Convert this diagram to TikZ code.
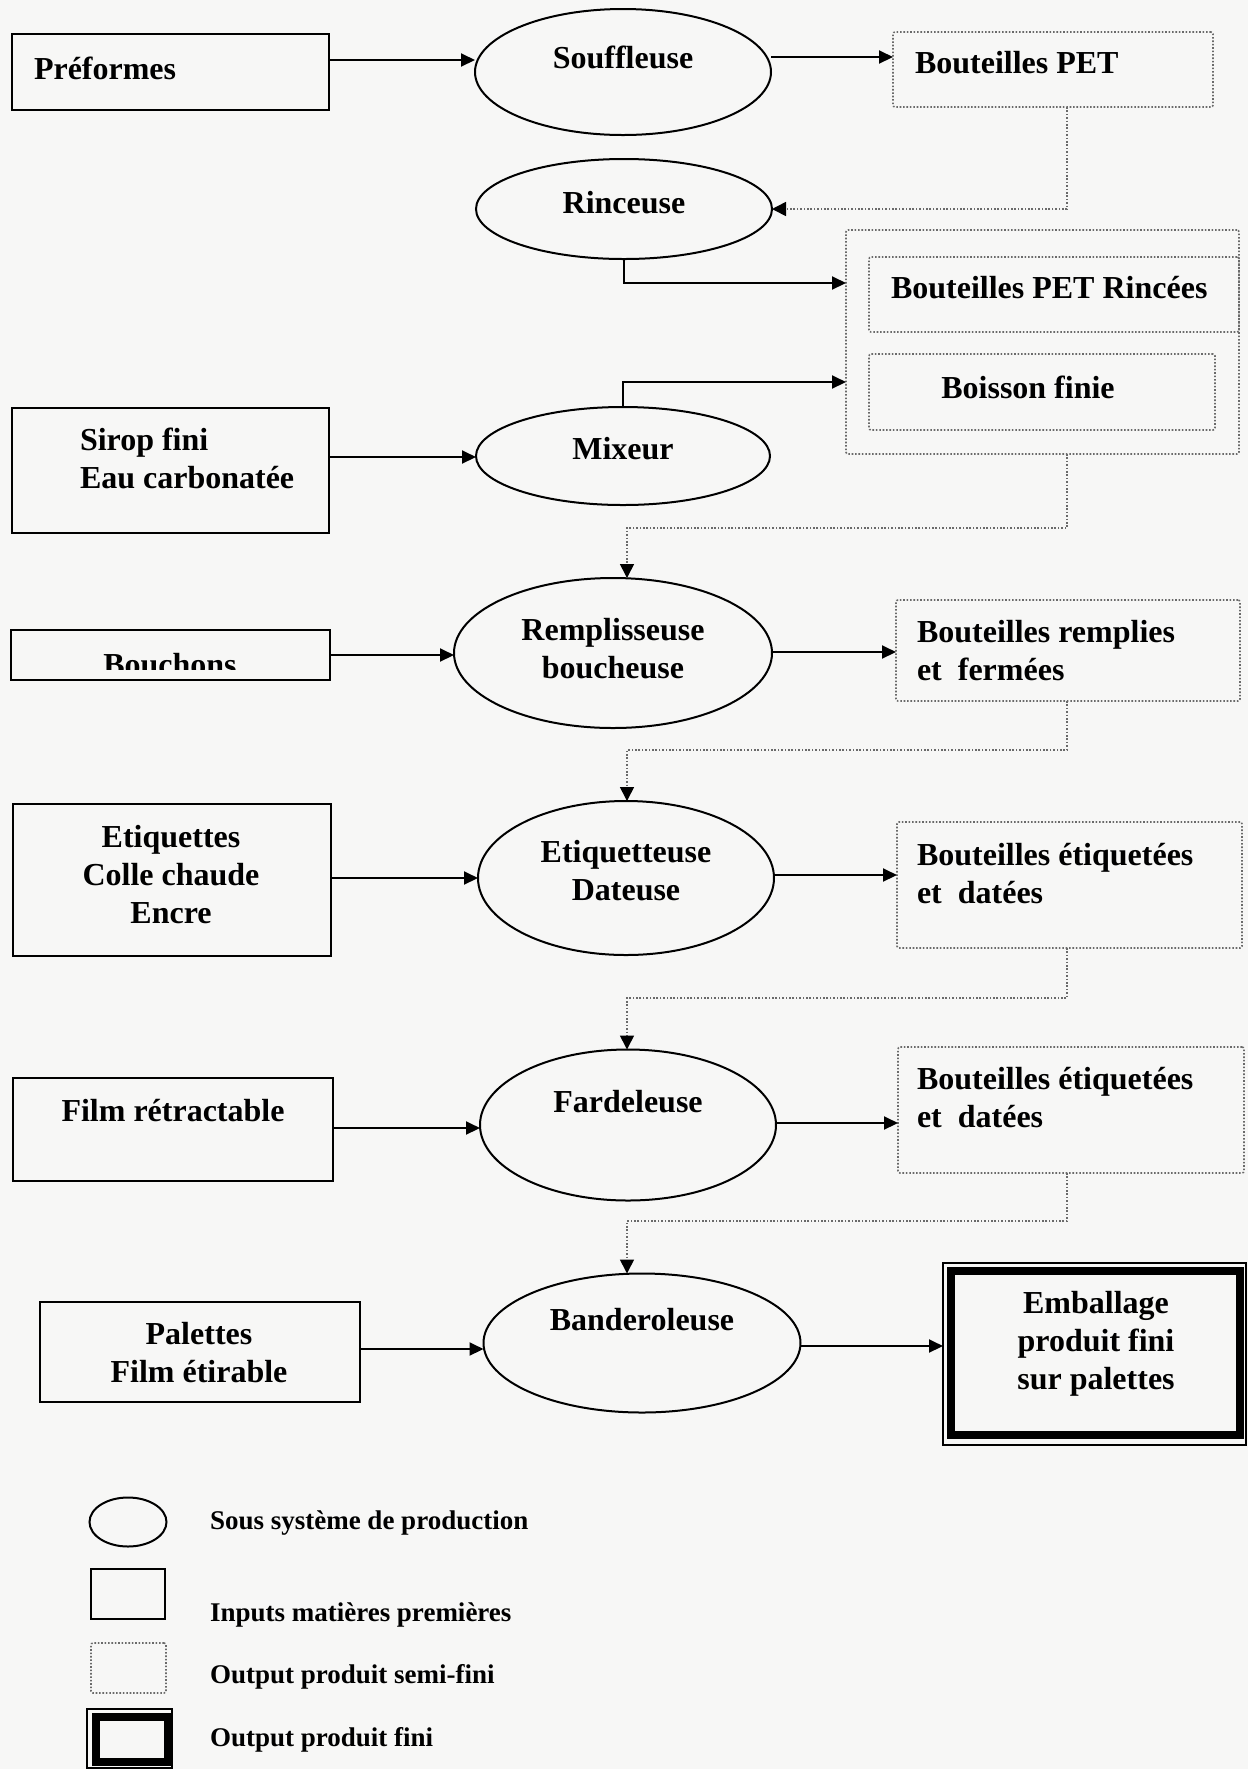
\documentclass[tikz,border=0pt]{standalone}
\usepackage{fontspec}
\setmainfont{Liberation Serif}
\usetikzlibrary{arrows.meta,shapes.geometric,positioning}
\definecolor{paper}{HTML}{F7F7F6}
\definecolor{dots}{HTML}{6A6A6A}

\begin{document}
\begin{tikzpicture}[
  x=0.5pt,y=-0.5pt,
  every node/.style={font=\fontsize{16}{19}\selectfont\bfseries,inner sep=0pt,outer sep=0pt},
  flow/.style={-{Triangle[length=7pt,width=6.5pt]},line width=1pt},
  link/.style={-{Triangle[length=7pt,width=7pt,color=black]},line width=0.8pt,draw=dots,dash pattern=on 0.8pt off 0.9pt},
  proc/.style={draw,ellipse,line width=1pt},
  input/.style={draw,rectangle,line width=1.1pt},
  semi/.style={draw=dots,rectangle,line width=0.8pt,dash pattern=on 0.8pt off 0.9pt,rounded corners=1pt},
  final/.style={draw,rectangle,line width=0.9pt},
  legtext/.style={font=\fontsize{13.5}{16}\selectfont\bfseries,anchor=west}
]
\useasboundingbox (0,0) rectangle (1248,1769);
\fill[paper] (0,0) rectangle (1248,1769);

% production sub-systems
\node[proc,minimum width=148pt,minimum height=63pt] (souf) at (623,72) {};
\node[proc,minimum width=148pt,minimum height=50pt] (rinc) at (624,209) {};
\node[proc,minimum width=147pt,minimum height=49pt] (mix) at (623,456) {};
\node[proc,minimum width=159pt,minimum height=75pt] (remp) at (613,653) {};
\node[proc,minimum width=148pt,minimum height=77pt] (etiq) at (626,878) {};
\node[proc,minimum width=148pt,minimum height=75.5pt] (fard) at (628,1125) {};
\node[proc,minimum width=158.5pt,minimum height=69.5pt] (band) at (642,1343) {};

\node (souf-t) at ([yshift=7.5pt]souf) {Souffleuse};
\node (rinc-t) at ([yshift=3pt]rinc) {Rinceuse};
\node (mix-t) at ([yshift=3.5pt]mix) {Mixeur};
\node[align=center] (remp-t) at ([yshift=2.25pt]remp) {Remplisseuse\\boucheuse};
\node[align=center] (etiq-t) at ([yshift=3.5pt]etiq) {Etiquetteuse\\Dateuse};
\node (fard-t) at ([yshift=11.5pt]fard) {Fardeleuse};
\node (band-t) at ([yshift=11.5pt]band) {Banderoleuse};

% raw material inputs
\node[input,minimum width=158.5pt,minimum height=38pt] (pref) at (170.5,72) {};
\node[input,minimum width=158.5pt,minimum height=62.5pt] (sirop) at (170.5,470.5) {};
\node[input,minimum width=159.5pt,minimum height=25pt] (bouch) at (170.5,655) {};
\node[input,minimum width=159pt,minimum height=76pt] (etq) at (172,880) {};
\node[input,minimum width=160pt,minimum height=51.5pt] (film) at (173,1129.5) {};
\node[input,minimum width=160pt,minimum height=50pt] (pal) at (200,1352) {};

\node[anchor=west] (pref-t) at (34,68) {Préformes};
\node[anchor=west,align=left] (sirop-t) at (80,458) {Sirop fini\\Eau carbonatée};
\begin{scope}
  \clip (bouch.north west) rectangle (bouch.east |- 0,669);
  \node[anchor=base] (bouch-t) at (170,675) {Bouchons};
\end{scope}
\node[align=center] (etq-t) at (171,875) {Etiquettes\\Colle chaude\\Encre};
\node (film-t) at (173,1111) {Film rétractable};
\node[align=center] (pal-t) at (199,1353) {Palettes\\Film étirable};

% semi-finished outputs
\node[semi,minimum width=160pt,minimum height=37.5pt] (pet) at (1053,69.5) {};
\node[semi,minimum width=196.5pt,minimum height=112pt] (outer) at (1042.5,342) {};
\node[semi,minimum width=185pt,minimum height=37.5pt] (rinced) at (1054,294.5) {};
\node[semi,minimum width=173pt,minimum height=38pt] (drink) at (1042,392) {};
\node[semi,minimum width=172pt,minimum height=50.5pt] (filled) at (1068,650.5) {};
\node[semi,minimum width=172.5pt,minimum height=63pt] (lab1) at (1069.5,885) {};
\node[semi,minimum width=173pt,minimum height=63pt] (lab2) at (1071,1110) {};

\node[anchor=west] (pet-t) at (915,63) {Bouteilles PET};
\node[anchor=west] (rinced-t) at (891,288) {Bouteilles PET Rincées};
\node (drink-t) at (1028,387) {Boisson finie};
\node[anchor=west,align=left] (filled-t) at (917,651) {Bouteilles remplies\\et~ fermées};
\node[anchor=west,align=left] (lab1-t) at (917,874) {Bouteilles étiquetées\\et~ datées};
\node[anchor=west,align=left] (lab2-t) at (917,1098) {Bouteilles étiquetées\\et~ datées};

% finished product
\node[final,minimum width=151.5pt,minimum height=91pt] (emb) at (1094.5,1354) {};
\draw[line width=4pt] ([shift={(4pt,-4pt)}]emb.north west) rectangle ([shift={(-3pt,5pt)}]emb.south east);
\node[align=center] (emb-t) at (1096,1344) {Emballage\\produit fini\\sur palettes};

% flows
\coordinate (drop) at (1067,0);
\coordinate (feed) at (627,0);
\draw[flow] (pref.east |- 0,60) -- (souf.west |- 0,60);
\draw[flow] (souf.east |- 0,57) -- (pet.west |- 0,57);
\draw[link] (pet.south -| drop) |- (rinc.east);
\draw[flow] (rinc.south) |- (outer.west |- 0,283);
\draw[flow] (mix.north) |- (outer.west |- 0,382);
\draw[flow] (sirop.east |- 0,457) -- (mix.west |- 0,457);
\draw[link] (outer.south -| drop) |- (feed |- 0,528) -- (remp.north -| feed);
\draw[flow] (bouch.east |- 0,655) -- (remp.west |- 0,655);
\draw[flow] (remp.east |- 0,652) -- (filled.west |- 0,652);
\draw[link] (filled.south -| drop) |- (feed |- 0,750) -- (etiq.north -| feed);
\draw[flow] (etq.east |- 0,878) -- (etiq.west |- 0,878);
\draw[flow] (etiq.east |- 0,875) -- (lab1.west |- 0,875);
\draw[link] (lab1.south -| drop) |- (feed |- 0,998) -- (fard.north -| feed);
\draw[flow] (film.east |- 0,1128) -- (fard.west |- 0,1128);
\draw[flow] (fard.east |- 0,1123) -- (lab2.west |- 0,1123);
\draw[link] (lab2.south -| drop) |- (feed |- 0,1221) -- (band.north -| feed);
\draw[flow] (pal.east |- 0,1349) -- (band.west |- 0,1349);
\draw[flow] (band.east |- 0,1346) -- (emb.west |- 0,1346);

% legend
\node[proc,minimum width=38.5pt,minimum height=24.5pt] (leg1) at (128,1522) {};
\node[input,minimum width=37pt,minimum height=25pt] (leg2) at (128,1594) {};
\node[semi,minimum width=37.5pt,minimum height=25pt] (leg3) at (128.5,1668) {};
\node[final,minimum width=42.5pt,minimum height=29.5pt] (leg4) at (129.5,1738.5) {};
\draw[line width=4pt] ([shift={(4.5pt,-4pt)}]leg4.north west) rectangle ([shift={(-2pt,3pt)}]leg4.south east);
\node[legtext] (leg1-t) at (210,1523) {Sous système de production};
\node[legtext] (leg2-t) at (210,1615) {Inputs matières premières};
\node[legtext] (leg3-t) at (210,1677) {Output produit semi-fini};
\node[legtext] (leg4-t) at (210,1740) {Output produit fini};
\end{tikzpicture}
\end{document}
